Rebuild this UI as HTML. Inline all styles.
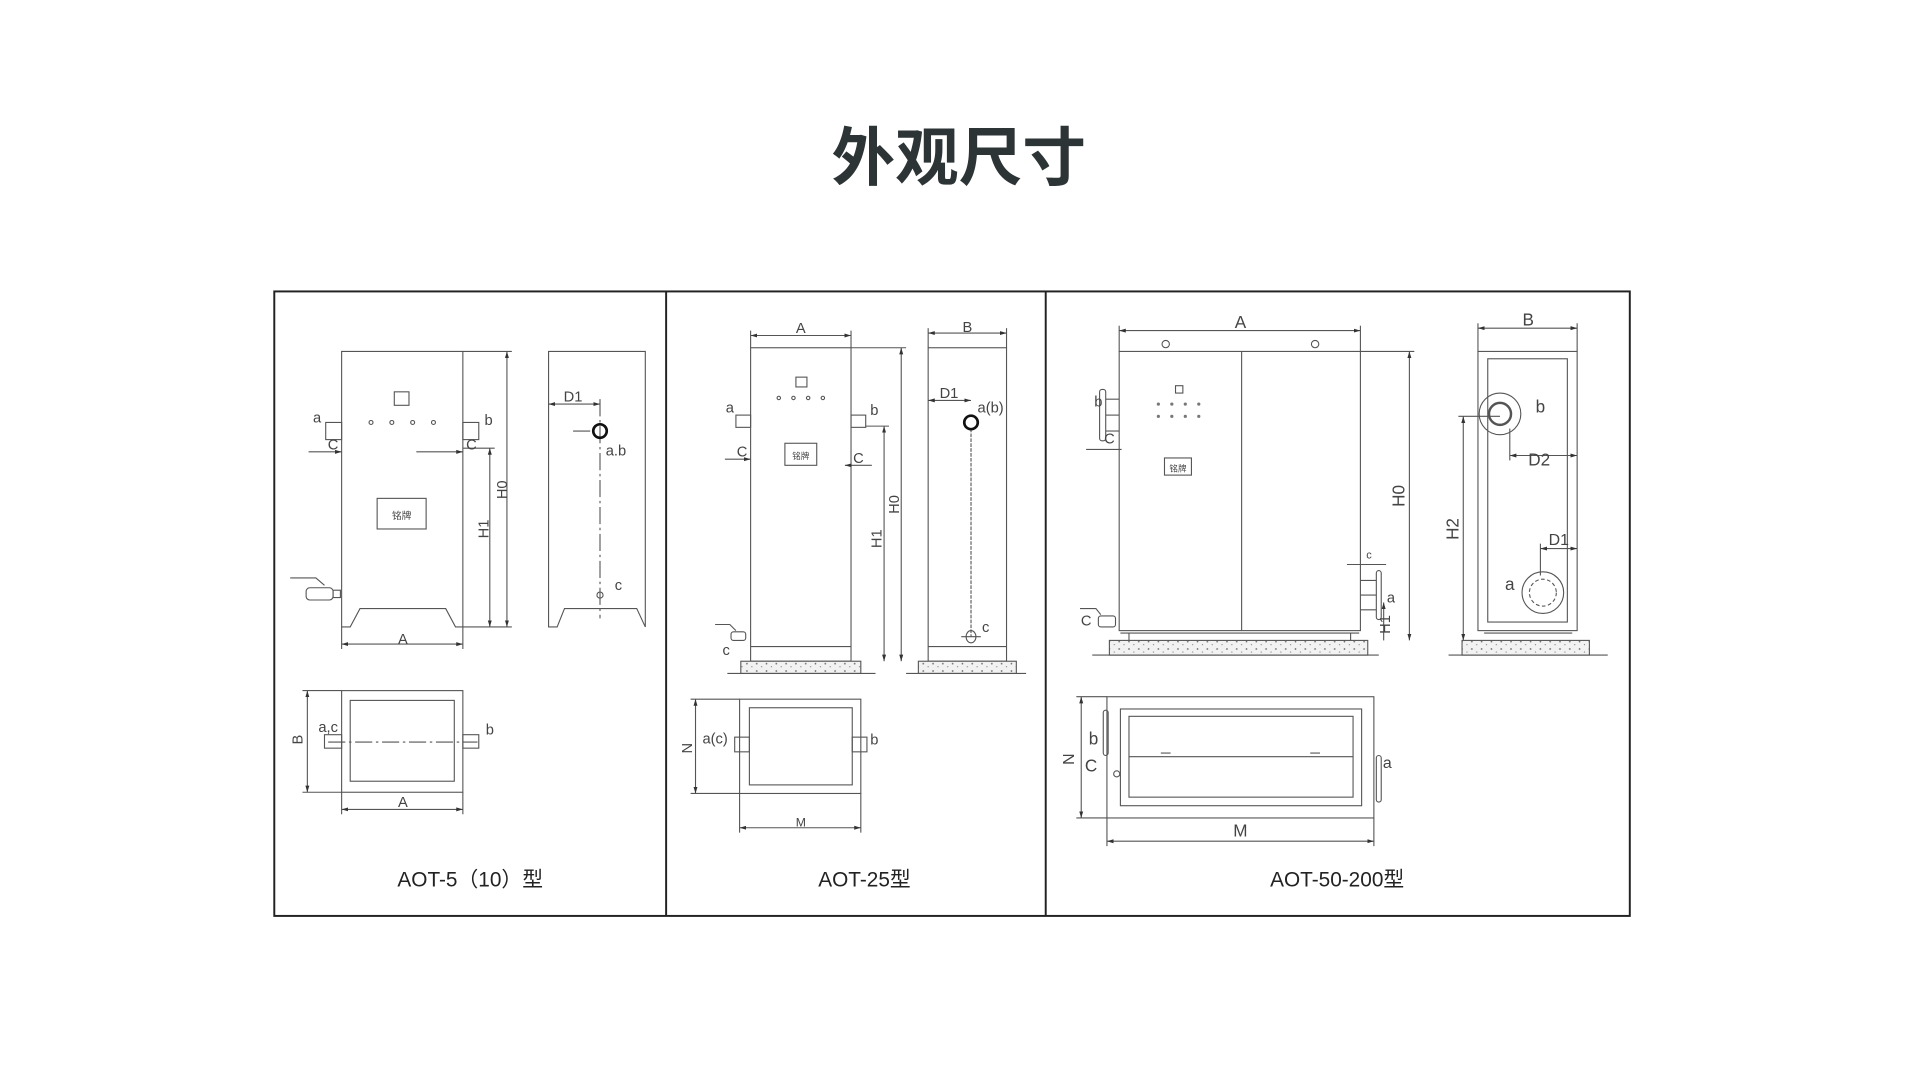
<!DOCTYPE html>
<html><head><meta charset="utf-8"><style>
html,body{margin:0;padding:0;background:#fff;}
svg{display:block;}
</style></head><body>
<svg width="1920" height="1080" viewBox="0 0 1568 882" preserveAspectRatio="none" xmlns="http://www.w3.org/2000/svg">
<defs>
<pattern id="conc" width="8" height="6" patternUnits="userSpaceOnUse">
<rect width="8" height="6" fill="#f2f2f2"/>
<circle cx="2" cy="2" r="0.7" fill="#666"/><circle cx="6" cy="4.5" r="0.5" fill="#888"/>
</pattern>
<marker id="ar" viewBox="0 0 10 6" refX="10" refY="3" markerWidth="6" markerHeight="4" orient="auto-start-reverse"><path d="M0,0L10,3L0,6z" fill="#333"/></marker>
</defs>
<text x="783" y="147" text-anchor="middle" font-family="Liberation Sans, Noto Sans CJK SC, sans-serif" font-weight="bold" font-size="52" fill="#2d3436">外观尺寸</text>
<g fill="none" stroke="#222" stroke-width="1.6">
<rect x="224" y="238" width="1107" height="510"/>
<line x1="544" y1="238" x2="544" y2="748"/><line x1="854" y1="238" x2="854" y2="748"/>
</g>
<g font-family="Liberation Sans, Noto Sans CJK SC, sans-serif" font-size="17" fill="#222" text-anchor="middle">
<text x="384" y="724">AOT-5（10）型</text>
<text x="706" y="724">AOT-25型</text>
<text x="1092" y="724">AOT-50-200型</text>
</g>
<g fill="none" stroke="#555" stroke-width="0.9">
<!-- Panel1 front -->
<path d="M279,287 H378 V512 H372 L364,497 H294 L286,512 H279 Z"/>
<rect x="322" y="320" width="12" height="11"/>
<circle cx="303" cy="345" r="1.6"/><circle cx="320" cy="345" r="1.6"/><circle cx="337" cy="345" r="1.6"/><circle cx="354" cy="345" r="1.6"/>
<rect x="308" y="407" width="40" height="25"/>
<rect x="266" y="345" width="13" height="14"/><rect x="378" y="345" width="13" height="14"/>
<line x1="252" y1="369" x2="279" y2="369" marker-end="url(#ar)"/><line x1="340" y1="369" x2="378" y2="369" marker-end="url(#ar)"/>
<line x1="378" y1="287" x2="418" y2="287"/><line x1="378" y1="512" x2="418" y2="512"/>
<line x1="414" y1="287" x2="414" y2="512" marker-start="url(#ar)" marker-end="url(#ar)"/>
<line x1="378" y1="366" x2="404" y2="366"/>
<line x1="400" y1="366" x2="400" y2="512" marker-start="url(#ar)" marker-end="url(#ar)"/>
<line x1="279" y1="526" x2="378" y2="526" marker-start="url(#ar)" marker-end="url(#ar)"/>
<line x1="279" y1="512" x2="279" y2="530"/><line x1="378" y1="512" x2="378" y2="530"/>
<path d="M237,472 H258 L265,478"/><rect x="250" y="480" width="22" height="10" rx="3"/><rect x="272" y="482" width="6" height="6"/>
<!-- Panel1 side -->
<path d="M448,287 H527 V512 L520,497 H461 L455,512 H448 Z"/>
<line x1="448" y1="330" x2="490" y2="330" marker-start="url(#ar)" marker-end="url(#ar)"/>
<line x1="490" y1="326" x2="490" y2="505" stroke-dasharray="14,3,2,3"/>
<line x1="468" y1="352" x2="482" y2="352"/>
<circle cx="490" cy="486" r="2.5"/>
<!-- Panel1 top -->
<rect x="279" y="564" width="99" height="83"/><rect x="286" y="572" width="85" height="66"/>
<rect x="265" y="600" width="14" height="11"/><rect x="378" y="600" width="13" height="11"/>
<line x1="268" y1="606" x2="390" y2="606" stroke-dasharray="14,3,2,3"/>
<line x1="247" y1="564" x2="279" y2="564"/><line x1="247" y1="647" x2="279" y2="647"/>
<line x1="251" y1="564" x2="251" y2="647" marker-start="url(#ar)" marker-end="url(#ar)"/>
<line x1="279" y1="647" x2="279" y2="665"/><line x1="378" y1="647" x2="378" y2="665"/>
<line x1="279" y1="661" x2="378" y2="661" marker-start="url(#ar)" marker-end="url(#ar)"/>

<!-- Panel2 front -->
<rect x="613" y="284" width="82" height="256"/><line x1="613" y1="528" x2="695" y2="528"/>
<line x1="613" y1="270" x2="613" y2="284"/><line x1="695" y1="270" x2="695" y2="284"/>
<line x1="613" y1="274" x2="695" y2="274" marker-start="url(#ar)" marker-end="url(#ar)"/>
<rect x="650" y="308" width="9" height="8"/>
<circle cx="636" cy="325" r="1.4"/><circle cx="648" cy="325" r="1.4"/><circle cx="660" cy="325" r="1.4"/><circle cx="672" cy="325" r="1.4"/>
<rect x="601" y="339" width="12" height="10"/><rect x="695" y="339" width="12" height="10"/>
<line x1="592" y1="375" x2="613" y2="375" marker-end="url(#ar)"/>
<line x1="690" y1="380" x2="712" y2="380" marker-start="url(#ar)"/>
<rect x="641" y="362" width="26" height="18"/>
<line x1="695" y1="284" x2="740" y2="284"/>
<line x1="736" y1="284" x2="736" y2="540" marker-start="url(#ar)" marker-end="url(#ar)"/>
<line x1="707" y1="348" x2="726" y2="348"/>
<line x1="722" y1="348" x2="722" y2="540" marker-start="url(#ar)" marker-end="url(#ar)"/>
<path d="M584,510 H596 L601,515"/><rect x="597" y="516" width="12" height="7" rx="2"/>
<rect x="605" y="540" width="98" height="10" fill="url(#conc)"/><line x1="594" y1="550" x2="715" y2="550"/>
<!-- Panel2 side -->
<rect x="758" y="284" width="64" height="256"/><line x1="758" y1="528" x2="822" y2="528"/>
<line x1="758" y1="268" x2="758" y2="284"/><line x1="822" y1="268" x2="822" y2="284"/>
<line x1="758" y1="272" x2="822" y2="272" marker-start="url(#ar)" marker-end="url(#ar)"/>
<line x1="758" y1="327" x2="793" y2="327" marker-start="url(#ar)" marker-end="url(#ar)"/>
<line x1="793" y1="350" x2="793" y2="520" stroke-dasharray="3,1"/>
<ellipse cx="793" cy="520" rx="4" ry="5"/><line x1="785" y1="520" x2="801" y2="520"/>
<rect x="750" y="540" width="80" height="10" fill="url(#conc)"/><line x1="740" y1="550" x2="838" y2="550"/>
<!-- Panel2 top -->
<rect x="604" y="571" width="99" height="77"/><rect x="612" y="578" width="84" height="63"/>
<rect x="600" y="602" width="12" height="12"/><rect x="696" y="602" width="12" height="12"/>
<line x1="564" y1="571" x2="604" y2="571"/><line x1="564" y1="648" x2="604" y2="648"/>
<line x1="568" y1="571" x2="568" y2="648" marker-start="url(#ar)" marker-end="url(#ar)"/>
<line x1="604" y1="648" x2="604" y2="680"/><line x1="703" y1="648" x2="703" y2="680"/>
<line x1="604" y1="676" x2="703" y2="676" marker-start="url(#ar)" marker-end="url(#ar)"/>

<!-- Panel3 front -->
<rect x="914" y="287" width="197" height="228"/><line x1="1014" y1="287" x2="1014" y2="515"/>
<circle cx="952" cy="281" r="3"/><circle cx="1074" cy="281" r="3"/>
<line x1="914" y1="266" x2="914" y2="287"/><line x1="1111" y1="266" x2="1111" y2="287"/>
<line x1="914" y1="270" x2="1111" y2="270" marker-start="url(#ar)" marker-end="url(#ar)"/>
<rect x="960" y="315" width="6" height="6"/>
<g fill="#777" stroke="none"><circle cx="946" cy="330" r="1.3"/><circle cx="957" cy="330" r="1.3"/><circle cx="968" cy="330" r="1.3"/><circle cx="979" cy="330" r="1.3"/><circle cx="946" cy="340" r="1.3"/><circle cx="957" cy="340" r="1.3"/><circle cx="968" cy="340" r="1.3"/><circle cx="979" cy="340" r="1.3"/></g>
<rect x="951" y="374" width="22" height="14"/>
<rect x="898" y="318" width="5" height="42" rx="2"/><line x1="903" y1="326" x2="914" y2="326"/><line x1="903" y1="339" x2="914" y2="339"/><line x1="903" y1="352" x2="914" y2="352"/>
<line x1="887" y1="367" x2="916" y2="367"/>
<rect x="1124" y="466" width="4" height="40" rx="2"/><line x1="1111" y1="474" x2="1124" y2="474"/><line x1="1111" y1="486" x2="1124" y2="486"/><line x1="1111" y1="498" x2="1124" y2="498"/>
<line x1="1100" y1="461" x2="1132" y2="461"/>
<line x1="1111" y1="287" x2="1155" y2="287"/>
<line x1="1151" y1="287" x2="1151" y2="523" marker-start="url(#ar)" marker-end="url(#ar)"/>
<line x1="1130" y1="492" x2="1130" y2="523" marker-start="url(#ar)"/>
<line x1="915" y1="517" x2="1110" y2="517"/><line x1="922" y1="517" x2="922" y2="523"/><line x1="1103" y1="517" x2="1103" y2="523"/>
<rect x="906" y="523" width="211" height="12" fill="url(#conc)"/><line x1="892" y1="535" x2="1126" y2="535"/>
<path d="M882,497 H895 L899,502"/><rect x="897" y="503" width="14" height="9" rx="2"/>
<!-- Panel3 side -->
<rect x="1207" y="287" width="81" height="228"/><rect x="1215" y="293" width="65" height="215"/>
<line x1="1207" y1="264" x2="1207" y2="287"/><line x1="1288" y1="264" x2="1288" y2="287"/>
<line x1="1207" y1="268" x2="1288" y2="268" marker-start="url(#ar)" marker-end="url(#ar)"/>
<circle cx="1225" cy="338" r="17"/><circle cx="1225" cy="338" r="9" stroke-width="2"/>
<line x1="1233" y1="350" x2="1233" y2="376"/>
<line x1="1233" y1="372" x2="1288" y2="372" marker-start="url(#ar)" marker-end="url(#ar)"/>
<line x1="1191" y1="340" x2="1225" y2="340"/>
<line x1="1195" y1="340" x2="1195" y2="523" marker-start="url(#ar)" marker-end="url(#ar)"/>
<line x1="1258" y1="444" x2="1258" y2="470"/>
<line x1="1258" y1="448" x2="1288" y2="448" marker-start="url(#ar)" marker-end="url(#ar)"/>
<circle cx="1260" cy="484" r="17"/><circle cx="1260" cy="484" r="11" stroke-dasharray="3,2"/>
<line x1="1212" y1="517" x2="1284" y2="517"/>
<rect x="1194" y="523" width="104" height="12" fill="url(#conc)"/><line x1="1183" y1="535" x2="1313" y2="535"/>
<!-- Panel3 top -->
<rect x="904" y="569" width="218" height="99"/><rect x="915" y="579" width="197" height="79"/><rect x="922" y="585" width="183" height="66"/>
<line x1="922" y1="618" x2="1105" y2="618"/>
<line x1="948" y1="615" x2="956" y2="615"/><line x1="1070" y1="615" x2="1078" y2="615"/>
<rect x="901" y="580" width="4" height="37" rx="2"/><rect x="1124" y="617" width="4" height="38" rx="2"/>
<circle cx="912" cy="632" r="2.5"/>
<line x1="879" y1="569" x2="904" y2="569"/><line x1="879" y1="668" x2="904" y2="668"/>
<line x1="883" y1="569" x2="883" y2="668" marker-start="url(#ar)" marker-end="url(#ar)"/>
<line x1="904" y1="668" x2="904" y2="691"/><line x1="1122" y1="668" x2="1122" y2="691"/>
<line x1="904" y1="687" x2="1122" y2="687" marker-start="url(#ar)" marker-end="url(#ar)"/>
</g>
<g stroke="#111" stroke-width="2.2" fill="none">
<circle cx="490" cy="352" r="5.5"/><circle cx="793" cy="345" r="5.5"/>
</g>
<g font-family="Liberation Sans, Noto Sans CJK SC, sans-serif" font-size="12" fill="#444" text-anchor="middle">
<text x="259" y="345">a</text><text x="399" y="347">b</text><text x="272" y="367">C</text><text x="385" y="367">C</text>
<text x="329" y="526">A</text><text x="468" y="328">D1</text><text x="503" y="372">a.b</text><text x="505" y="482">c</text>
<text x="328" y="424" font-size="8">铭牌</text>
<text x="268" y="598">a,c</text><text x="400" y="600">b</text><text x="329" y="659">A</text>
<text transform="translate(247,604) rotate(-90)">B</text>
<text transform="translate(414,400) rotate(-90)">H0</text><text transform="translate(399,432) rotate(-90)">H1</text>
<text x="654" y="272">A</text><text x="596" y="337">a</text><text x="714" y="339">b</text>
<text x="606" y="373">C</text><text x="701" y="378">C</text><text x="593" y="535">c</text>
<text x="654" y="375" font-size="7">铭牌</text>
<text transform="translate(734,412) rotate(-90)">H0</text><text transform="translate(720,440) rotate(-90)">H1</text>
<text x="790" y="271">B</text><text x="775" y="325">D1</text><text x="809" y="337">a(b)</text><text x="805" y="516">c</text>
<text x="584" y="607">a(c)</text><text x="714" y="608">b</text><text x="654" y="675" font-size="10">M</text>
<text transform="translate(565,611) rotate(-90)">N</text>
<text x="1013" y="268" font-size="14">A</text><text x="897" y="332">b</text><text x="906" y="362">C</text>
<text x="1118" y="456" font-size="9">c</text><text x="1136" y="492">a</text><text x="887" y="511">C</text>
<text x="962" y="385" font-size="7">铭牌</text>
<text transform="translate(1147,405) rotate(-90)" font-size="14">H0</text>
<text transform="translate(1135,510) rotate(-90)">H1</text>
<text x="1248" y="266" font-size="14">B</text><text x="1258" y="337" font-size="14">b</text>
<text x="1257" y="380" font-size="14">D2</text><text x="1273" y="445" font-size="13">D1</text><text x="1233" y="482" font-size="14">a</text>
<text transform="translate(1191,432) rotate(-90)" font-size="14">H2</text>
<text x="893" y="608" font-size="14">b</text><text x="891" y="630" font-size="14">C</text><text x="1133" y="627" font-size="13">a</text>
<text transform="translate(877,620) rotate(-90)" font-size="13">N</text><text x="1013" y="683" font-size="14">M</text>
</g>
</svg>
</body></html>
